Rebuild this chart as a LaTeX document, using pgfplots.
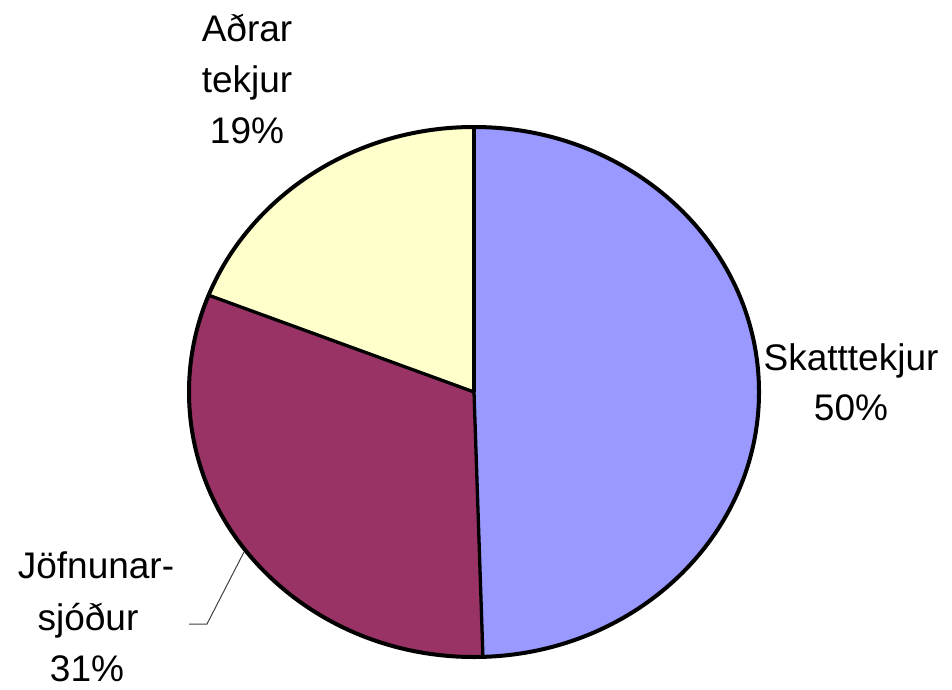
\documentclass[border=0pt]{standalone}
\usepackage{pgfplots}
\usepackage{pgfplotstable}
\pgfplotsset{compat=1.18}
\usepackage{fontspec}
\setmainfont{Liberation Sans}
\definecolor{cSkatt}{HTML}{9999FF}
\definecolor{cJofn}{HTML}{993366}
\definecolor{cAdrar}{HTML}{FFFFCC}
\pgfplotstableread{
label value
Skatttekjur 49.5
Jofnunarsjodur 31.45
Adrar 19.05
}\piedata
\pgfplotstablegetelem{0}{value}\of\piedata \let\vA\pgfplotsretval
\pgfplotstablegetelem{1}{value}\of\piedata \let\vB\pgfplotsretval
\pgfplotstablegetelem{2}{value}\of\piedata \let\vC\pgfplotsretval
\pgfmathsetmacro{\aA}{90}
\pgfmathsetmacro{\aB}{90-3.6*\vA}
\pgfmathsetmacro{\aC}{\aB-3.6*\vB}
\pgfmathsetmacro{\aD}{\aC-3.6*\vC}
\begin{document}
\begin{tikzpicture}
\begin{axis}[
  scale only axis, width=952pt, height=689pt,
  xmin=0, xmax=952, ymin=0, ymax=689,
  hide axis, clip=false,
]
\path[draw=none] (axis cs:0,0) rectangle (axis cs:952,689);
\def\cx{474}\def\cy{297}
\fill[cSkatt] (axis cs:\cx,\cy) -- ++(\aA:285pt and 265pt) arc[start angle=\aA, end angle=\aB, x radius=285pt, y radius=265pt] -- cycle;
\fill[cJofn] (axis cs:\cx,\cy) -- ++(\aB:285pt and 265pt) arc[start angle=\aB, end angle=\aC, x radius=285pt, y radius=265pt] -- cycle;
\fill[cAdrar] (axis cs:\cx,\cy) -- ++(\aC:285pt and 265pt) arc[start angle=\aC, end angle=\aD, x radius=285pt, y radius=265pt] -- cycle;
\draw[line width=3.3pt] (axis cs:\cx,\cy) -- ++(\aA:285pt and 265pt);
\draw[line width=3.3pt] (axis cs:\cx,\cy) -- ++(\aB:285pt and 265pt);
\draw[line width=3.3pt] (axis cs:\cx,\cy) -- ++(\aC:285pt and 265pt);
\draw[line width=4pt] (axis cs:\cx,\cy) ellipse[x radius=285pt, y radius=265pt];
\draw[line width=1pt, black!75] (axis cs:189,65) -- (axis cs:207,65) -- (axis cs:244,137);
\begin{scope}[every node/.style={anchor=base, inner sep=0pt, font=\fontsize{37}{44}\selectfont}]
\node at (axis cs:247,647) {Aðrar};
\node at (axis cs:247,596) {tekjur};
\node at (axis cs:247,545) {19\%};
\node at (axis cs:851,319) {Skatttekjur};
\node at (axis cs:851,269) {50\%};
\node at (axis cs:96,111) {Jöfnunar-};
\node at (axis cs:88,59) {sjóður};
\node at (axis cs:87,8) {31\%};
\end{scope}
\end{axis}
\end{tikzpicture}
\end{document}
